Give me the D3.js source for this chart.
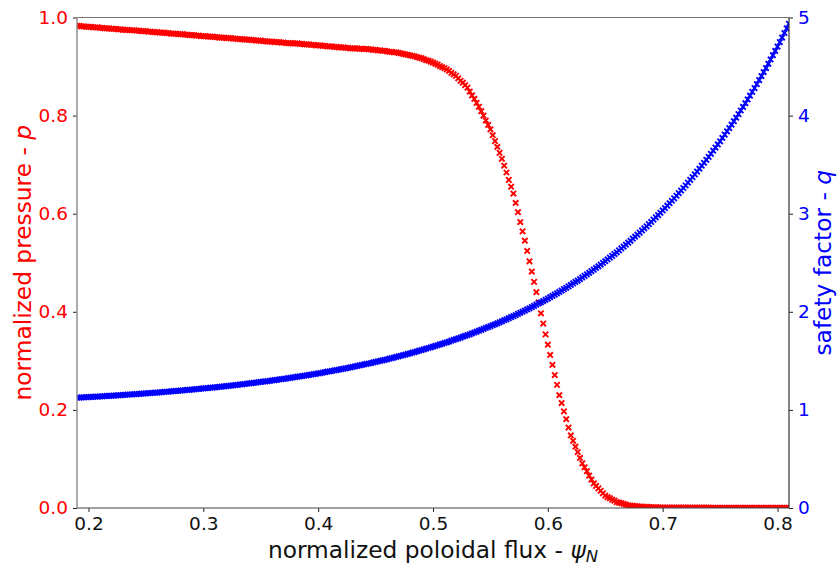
<!DOCTYPE html>
<html>
<head>
<meta charset="utf-8">
<script src="https://cdn.jsdelivr.net/npm/d3@7"></script>
<style>
  html, body { margin: 0; padding: 0; background: #ffffff; }
  svg { display: block; font-family: "DejaVu Sans", sans-serif; }
</style>
</head>
<body>
<div id="chart"></div>
<script>
// ---- data ----
const psi = [
0.190,0.192,0.194,0.196,0.198,0.200,0.202,0.204,0.206,0.208,0.210,0.212,0.214,0.216,0.218,0.220,0.222,0.224,0.226,0.228,
0.230,0.232,0.234,0.236,0.238,0.240,0.242,0.244,0.246,0.248,0.250,0.252,0.254,0.256,0.258,0.260,0.262,0.264,0.266,0.268,
0.270,0.272,0.274,0.276,0.278,0.280,0.282,0.284,0.286,0.288,0.290,0.292,0.294,0.296,0.298,0.300,0.302,0.304,0.306,0.308,
0.310,0.312,0.314,0.316,0.318,0.320,0.322,0.324,0.326,0.328,0.330,0.332,0.334,0.336,0.338,0.340,0.342,0.344,0.346,0.348,
0.350,0.352,0.354,0.356,0.358,0.360,0.362,0.364,0.366,0.368,0.370,0.372,0.374,0.376,0.378,0.380,0.382,0.384,0.386,0.388,
0.390,0.392,0.394,0.396,0.398,0.400,0.402,0.404,0.406,0.408,0.410,0.412,0.414,0.416,0.418,0.420,0.422,0.424,0.426,0.428,
0.430,0.432,0.434,0.436,0.438,0.440,0.442,0.444,0.446,0.448,0.450,0.452,0.454,0.456,0.458,0.460,0.462,0.464,0.466,0.468,
0.470,0.472,0.474,0.476,0.478,0.480,0.482,0.484,0.486,0.488,0.490,0.492,0.494,0.496,0.498,0.500,0.502,0.504,0.506,0.508,
0.510,0.512,0.514,0.516,0.518,0.520,0.522,0.524,0.526,0.528,0.530,0.532,0.534,0.536,0.538,0.540,0.542,0.544,0.546,0.548,
0.550,0.552,0.554,0.556,0.558,0.560,0.562,0.564,0.566,0.568,0.570,0.572,0.574,0.576,0.578,0.580,0.582,0.584,0.586,0.588,
0.590,0.592,0.594,0.596,0.598,0.600,0.602,0.604,0.606,0.608,0.610,0.612,0.614,0.616,0.618,0.620,0.622,0.624,0.626,0.628,
0.630,0.632,0.634,0.636,0.638,0.640,0.642,0.644,0.646,0.648,0.650,0.652,0.654,0.656,0.658,0.660,0.662,0.664,0.666,0.668,
0.670,0.672,0.674,0.676,0.678,0.680,0.682,0.684,0.686,0.688,0.690,0.692,0.694,0.696,0.698,0.700,0.702,0.704,0.706,0.708,
0.710,0.712,0.714,0.716,0.718,0.720,0.722,0.724,0.726,0.728,0.730,0.732,0.734,0.736,0.738,0.740,0.742,0.744,0.746,0.748,
0.750,0.752,0.754,0.756,0.758,0.760,0.762,0.764,0.766,0.768,0.770,0.772,0.774,0.776,0.778,0.780,0.782,0.784,0.786,0.788,
0.790,0.792,0.794,0.796,0.798,0.800,0.802,0.804,0.806,0.808,0.810
];

const pressure = [
0.983,0.983,0.982,0.982,0.981,0.981,0.981,0.980,0.980,0.980,0.979,0.979,0.978,0.978,0.978,0.977,0.977,0.977,0.976,0.976,
0.975,0.975,0.975,0.974,0.974,0.974,0.973,0.973,0.972,0.972,0.972,0.971,0.971,0.970,0.970,0.970,0.969,0.969,0.969,0.968,
0.968,0.967,0.967,0.967,0.966,0.966,0.966,0.965,0.965,0.964,0.964,0.964,0.963,0.963,0.962,0.962,0.962,0.961,0.961,0.961,
0.960,0.960,0.959,0.959,0.959,0.958,0.958,0.958,0.957,0.957,0.956,0.956,0.956,0.955,0.955,0.955,0.954,0.954,0.953,0.953,
0.953,0.952,0.952,0.951,0.951,0.951,0.950,0.950,0.950,0.949,0.949,0.948,0.948,0.948,0.947,0.947,0.947,0.946,0.946,0.945,
0.945,0.945,0.944,0.944,0.943,0.943,0.943,0.942,0.942,0.941,0.941,0.941,0.940,0.940,0.939,0.939,0.939,0.938,0.938,0.937,
0.937,0.937,0.937,0.936,0.936,0.936,0.936,0.935,0.935,0.934,0.934,0.933,0.933,0.932,0.932,0.931,0.930,0.930,0.929,0.929,
0.928,0.927,0.926,0.925,0.924,0.923,0.922,0.921,0.919,0.918,0.917,0.915,0.913,0.912,0.910,0.908,0.906,0.904,0.901,0.899,
0.897,0.894,0.891,0.887,0.884,0.881,0.876,0.871,0.867,0.862,0.857,0.849,0.841,0.834,0.826,0.818,0.809,0.800,0.790,0.781,
0.772,0.760,0.748,0.736,0.724,0.712,0.698,0.684,0.669,0.655,0.641,0.622,0.603,0.583,0.564,0.545,0.524,0.503,0.482,0.461,
0.440,0.419,0.397,0.376,0.354,0.333,0.312,0.292,0.271,0.251,0.230,0.214,0.197,0.181,0.164,0.148,0.137,0.125,0.114,0.102,
0.091,0.083,0.075,0.066,0.058,0.050,0.045,0.040,0.035,0.030,0.025,0.022,0.020,0.017,0.015,0.012,0.011,0.0097,0.0084,0.0068,
0.0055,0.0050,0.0044,0.0039,0.0033,0.0028,0.0026,0.0023,0.0021,0.0018,0.0016,0.0015,0.0013,0.0012,0.0011,0.0010,0.0009,0.0009,0.0009,0.0009,
0.0009,0.0009,0.0009,0.0009,0.0009,0.0009,0.0007,0.0007,0.0007,0.0007,0.0007,0.0007,0.0007,0.0007,0.0007,0.0007,0.0005,0.0005,0.0005,0.0005,
0.0005,0.0005,0.0005,0.0005,0.0005,0.0005,0.0004,0.0004,0.0004,0.0004,0.0004,0.0004,0.0004,0.0004,0.0004,0.0004,0.0003,0.0003,0.0003,0.0003,
0.0003,0.0003,0.0003,0.0003,0.0003,0.0003,0.0003,0.0003,0.0003,0.0003,0.0003
];

const safety = [
1.124,1.125,1.127,1.128,1.129,1.131,1.132,1.133,1.135,1.136,1.137,1.139,1.140,1.142,1.143,1.144,1.146,1.147,1.149,1.150,
1.152,1.154,1.155,1.157,1.158,1.160,1.162,1.163,1.165,1.167,1.169,1.170,1.172,1.174,1.176,1.177,1.179,1.181,1.183,1.185,
1.187,1.189,1.191,1.193,1.195,1.197,1.199,1.201,1.203,1.205,1.207,1.210,1.212,1.214,1.216,1.219,1.221,1.223,1.226,1.228,
1.230,1.233,1.235,1.238,1.240,1.243,1.245,1.248,1.251,1.253,1.256,1.259,1.261,1.264,1.267,1.270,1.273,1.276,1.279,1.282,
1.285,1.288,1.291,1.294,1.297,1.300,1.303,1.307,1.310,1.313,1.317,1.320,1.324,1.327,1.331,1.334,1.338,1.341,1.345,1.349,
1.353,1.356,1.360,1.364,1.368,1.372,1.376,1.380,1.385,1.389,1.393,1.397,1.402,1.406,1.410,1.415,1.419,1.424,1.429,1.433,
1.438,1.443,1.448,1.453,1.458,1.463,1.468,1.473,1.478,1.484,1.489,1.494,1.500,1.505,1.511,1.516,1.522,1.528,1.534,1.540,
1.546,1.552,1.558,1.564,1.570,1.577,1.583,1.590,1.596,1.603,1.610,1.617,1.624,1.631,1.638,1.645,1.652,1.659,1.667,1.674,
1.682,1.689,1.697,1.705,1.713,1.721,1.729,1.737,1.746,1.754,1.763,1.771,1.780,1.789,1.798,1.807,1.816,1.825,1.835,1.844,
1.854,1.863,1.873,1.883,1.893,1.903,1.914,1.924,1.935,1.946,1.956,1.967,1.979,1.990,2.001,2.012,2.024,2.036,2.048,2.060,
2.072,2.085,2.097,2.110,2.122,2.135,2.149,2.162,2.175,2.189,2.202,2.217,2.231,2.245,2.259,2.274,2.289,2.304,2.319,2.334,
2.350,2.366,2.382,2.398,2.414,2.430,2.447,2.464,2.482,2.499,2.516,2.534,2.552,2.570,2.589,2.607,2.626,2.646,2.665,2.684,
2.704,2.724,2.745,2.766,2.786,2.807,2.829,2.851,2.872,2.894,2.916,2.940,2.963,2.986,3.009,3.033,3.058,3.082,3.107,3.132,
3.157,3.183,3.210,3.236,3.262,3.289,3.317,3.345,3.373,3.401,3.429,3.459,3.489,3.519,3.549,3.579,3.611,3.642,3.674,3.706,
3.738,3.772,3.806,3.840,3.873,3.907,3.943,3.979,4.015,4.052,4.088,4.126,4.165,4.203,4.242,4.280,4.321,4.362,4.403,4.444,
4.485,4.528,4.572,4.616,4.659,4.703,4.749,4.796,4.842,4.889,4.935
];

const xTicks = [0.2, 0.3, 0.4, 0.5, 0.6, 0.7, 0.8];
const pTicks = [0.0, 0.2, 0.4, 0.6, 0.8, 1.0];
const qTicks = [0, 1, 2, 3, 4, 5];
const xDomain = [0.19, 0.81];
const pDomain = [0, 1];
const qDomain = [0, 5];

// ---- layout ----
const W = 838, H = 567;
const L = 77, R = 789, T = 17.5, B = 508;
const FONT = "DejaVu Sans, sans-serif";
const RED = "#ff0000", BLUE = "#0000ff";

const svg = d3.select("#chart").append("svg")
  .attr("width", W).attr("height", H);

const x = d3.scaleLinear().domain(xDomain).range([L, R]);
const yP = d3.scaleLinear().domain(pDomain).range([B, T]);
const yQ = d3.scaleLinear().domain(qDomain).range([B, T]);

svg.append("defs").append("clipPath").attr("id", "plotclip")
  .append("rect").attr("x", L).attr("y", T - 3).attr("width", R - L).attr("height", B - T + 3);

const markerPath = "M-2.7,-2.7L2.7,2.7M-2.7,2.7L2.7,-2.7";

// pressure (left axis)
const gP = svg.append("g").attr("clip-path", "url(#plotclip)");
gP.selectAll("path").data(psi).join("path")
  .attr("d", markerPath)
  .attr("transform", (d, i) => `translate(${x(d)},${yP(pressure[i])})`)
  .attr("stroke", RED).attr("stroke-width", 1.9).attr("fill", "none");

// safety factor (right axis, drawn on top)
const gQ = svg.append("g").attr("clip-path", "url(#plotclip)");
gQ.selectAll("path").data(psi).join("path")
  .attr("d", markerPath)
  .attr("transform", (d, i) => `translate(${x(d)},${yQ(safety[i])})`)
  .attr("stroke", BLUE).attr("stroke-width", 1.9).attr("fill", "none");

// ---- axes ----
const xAxis = svg.append("g").attr("transform", `translate(0,${B})`)
  .call(d3.axisBottom(x).tickValues(xTicks).tickFormat(d3.format(".1f")).tickSizeOuter(0).tickSize(4).tickPadding(5));
const pAxis = svg.append("g").attr("transform", `translate(${L},0)`)
  .call(d3.axisLeft(yP).tickValues(pTicks).tickFormat(d3.format(".1f")).tickSizeOuter(0).tickSize(4).tickPadding(5));
const qAxis = svg.append("g").attr("transform", `translate(${R},0)`)
  .call(d3.axisRight(yQ).tickValues(qTicks).tickFormat(d3.format("d")).tickSizeOuter(0).tickSize(4).tickPadding(5));

[xAxis, pAxis, qAxis].forEach(g => {
  g.select(".domain").remove();
  g.selectAll(".tick line").attr("stroke", "#222").attr("stroke-width", 1);
  g.selectAll(".tick text").attr("font-family", FONT).attr("font-size", 18.5);
});
xAxis.selectAll(".tick text").attr("fill", "#111");
pAxis.selectAll(".tick text").attr("fill", RED);
qAxis.selectAll(".tick text").attr("fill", BLUE);

// spines
svg.append("line").attr("x1", L).attr("x2", R).attr("y1", T).attr("y2", T).attr("stroke", "#777").attr("stroke-width", 1.2);
svg.append("line").attr("x1", L).attr("x2", R).attr("y1", B).attr("y2", B).attr("stroke", "#444").attr("stroke-width", 1.2);
svg.append("line").attr("x1", L).attr("x2", L).attr("y1", T).attr("y2", B).attr("stroke", "#888").attr("stroke-width", 1.4);
svg.append("line").attr("x1", R).attr("x2", R).attr("y1", T).attr("y2", B).attr("stroke", "#333").attr("stroke-width", 1.2);

// ---- axis labels ----
const xl = svg.append("text")
  .attr("x", (L + R) / 2).attr("y", 558)
  .attr("text-anchor", "middle")
  .attr("font-family", FONT).attr("font-size", 23.3).attr("fill", "#111");
xl.append("tspan").text("normalized poloidal flux - ");
xl.append("tspan").attr("font-style", "italic").text("ψ");
xl.append("tspan").attr("font-style", "italic").attr("font-size", 16.5).attr("dy", 4).text("N");

const yl = svg.append("text")
  .attr("transform", `translate(31,${(T + B) / 2}) rotate(-90)`)
  .attr("text-anchor", "middle")
  .attr("font-family", FONT).attr("font-size", 23.3).attr("fill", RED);
yl.append("tspan").text("normalized pressure - ");
yl.append("tspan").attr("font-style", "italic").text("p");

const yr = svg.append("text")
  .attr("transform", `translate(831,${(T + B) / 2}) rotate(-90)`)
  .attr("text-anchor", "middle")
  .attr("font-family", FONT).attr("font-size", 23.3).attr("fill", BLUE);
yr.append("tspan").text("safety factor - ");
yr.append("tspan").attr("font-style", "italic").text("q");
</script>
</body>
</html>
